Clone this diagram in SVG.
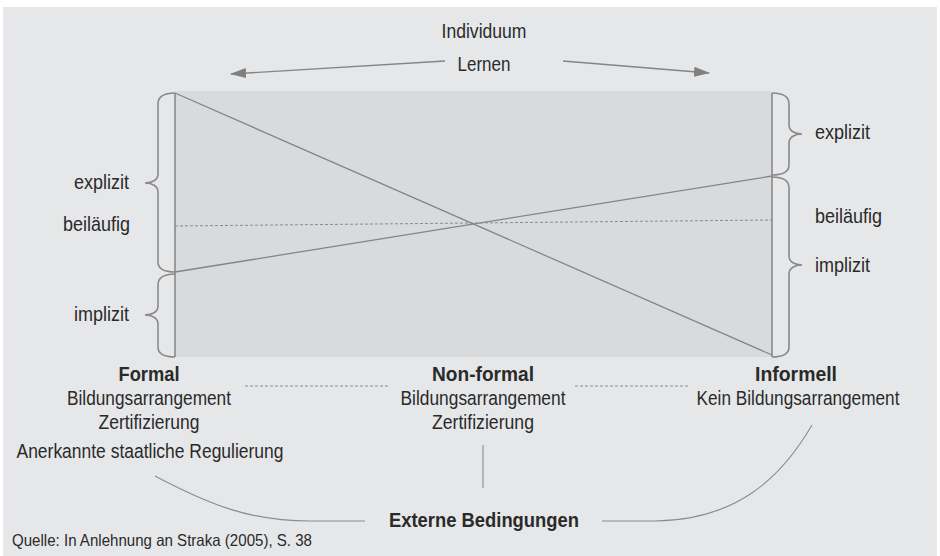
<svg xmlns="http://www.w3.org/2000/svg" width="940" height="556" viewBox="0 0 940 556">
  <defs>
    <marker id="arrow" viewBox="0 0 16 10" refX="15" refY="5" markerWidth="16" markerHeight="10" markerUnits="userSpaceOnUse" orient="auto">
      <path d="M0,0 L16,5 L0,10 Z" fill="#808080"/>
    </marker>
  </defs>
  <style>
    text { font-family: "Liberation Sans", Arial, sans-serif; font-size: 20.5px; fill: #2a2a2a; }
    .b { font-weight: bold; }
    .mid { text-anchor: middle; }
    .end { text-anchor: end; }
    .src { font-size: 16.5px; }
    .ln { fill: none; stroke: #858585; stroke-width: 1.3; }
    .brace { fill: none; stroke: #8a8a8a; stroke-width: 1.6; }
    .thin { fill: none; stroke: #8c8c8c; stroke-width: 1.1; }
    .dash { fill: none; stroke: #8c8c8c; stroke-width: 1; stroke-dasharray: 3 2; }
  </style>

  <!-- background panel -->
  <rect x="3" y="7" width="934" height="549" fill="#e6e7e9"/>

  <!-- learning field -->
  <g id="field">
    <rect x="175" y="91" width="597" height="266" fill="#d9dadc"/>
    <line class="brace" x1="175" y1="93" x2="175" y2="357"/>
    <line class="brace" x1="772" y1="93" x2="772" y2="357"/>
  </g>

  <!-- connectors -->
  <g id="connectors">
    <line class="ln" x1="445" y1="61" x2="231" y2="74" marker-end="url(#arrow)"/>
    <line class="ln" x1="563" y1="61" x2="709" y2="73" marker-end="url(#arrow)"/>
    <line class="ln" x1="175" y1="93" x2="772" y2="355"/>
    <line class="ln" x1="175" y1="272" x2="772" y2="176"/>
    <line class="dash" x1="175" y1="226" x2="772" y2="220"/>
    <line class="dash" x1="245" y1="386" x2="390" y2="386" stroke-dasharray="2 1.5"/>
    <line class="dash" x1="575" y1="386" x2="690" y2="386" stroke-dasharray="2 1.5"/>
    <line class="thin" x1="483" y1="445" x2="483" y2="488"/>
    <path class="thin" d="M155,476 C210,505 250,521 310,521 L365,521"/>
    <path class="thin" d="M812,425 C780,480 735,520 655,521 L602,521"/>
  </g>

  <!-- braces -->
  <g id="braces">
    <path class="brace" d="M175,93 C164,93 158,96 158,104 L158,174 C158,180 152,183 145,183 C152,183 158,186 158,192 L158,262 C158,269 164,272 175,272"/>
    <path class="brace" d="M175,274 C164,274 158,277 158,285 L158,306 C158,312 152,315 145,315 C152,315 158,318 158,324 L158,347 C158,354 164,357 175,357"/>
    <path class="brace" d="M772,93 C783,93 789,96 789,104 L789,125 C789,131 795,134 802,134 C795,134 789,137 789,143 L789,165 C789,172 783,175 772,175"/>
    <path class="brace" d="M772,177 C783,177 789,180 789,188 L789,256 C789,262 795,265 802,265 C795,265 789,268 789,274 L789,347 C789,354 783,357 772,357"/>
  </g>

  <g id="individuum">
    <text class="mid" x="484" y="38" textLength="85" lengthAdjust="spacingAndGlyphs">Individuum</text>
    <text class="mid" x="484" y="71" textLength="53" lengthAdjust="spacingAndGlyphs">Lernen</text>
  </g>

  <g id="left-labels">
    <text class="end" x="129" y="189" textLength="55" lengthAdjust="spacingAndGlyphs">explizit</text>
    <text class="end" x="130" y="231" textLength="67" lengthAdjust="spacingAndGlyphs">beiläufig</text>
    <text class="end" x="129" y="321" textLength="55" lengthAdjust="spacingAndGlyphs">implizit</text>
  </g>

  <g id="right-labels">
    <text x="815" y="139" textLength="55" lengthAdjust="spacingAndGlyphs">explizit</text>
    <text x="815" y="223" textLength="67" lengthAdjust="spacingAndGlyphs">beiläufig</text>
    <text x="815" y="272" textLength="55" lengthAdjust="spacingAndGlyphs">implizit</text>
  </g>

  <g id="formal">
    <text class="mid b" x="149" y="381" textLength="61" lengthAdjust="spacingAndGlyphs">Formal</text>
    <text class="mid" x="149" y="405" textLength="164" lengthAdjust="spacingAndGlyphs">Bildungsarrangement</text>
    <text class="mid" x="149" y="429" textLength="101" lengthAdjust="spacingAndGlyphs">Zertifizierung</text>
    <text class="mid" x="150" y="458" textLength="267" lengthAdjust="spacingAndGlyphs">Anerkannte staatliche Regulierung</text>
  </g>

  <g id="nonformal">
    <text class="mid b" x="483" y="381" textLength="102" lengthAdjust="spacingAndGlyphs">Non-formal</text>
    <text class="mid" x="483" y="405" textLength="165" lengthAdjust="spacingAndGlyphs">Bildungsarrangement</text>
    <text class="mid" x="483" y="429" textLength="102" lengthAdjust="spacingAndGlyphs">Zertifizierung</text>
  </g>

  <g id="informell">
    <text class="mid b" x="796" y="381" textLength="82" lengthAdjust="spacingAndGlyphs">Informell</text>
    <text class="mid" x="798" y="405" textLength="203" lengthAdjust="spacingAndGlyphs">Kein Bildungsarrangement</text>
  </g>

  <g id="externe">
    <text class="mid b" x="484" y="527" textLength="190" lengthAdjust="spacingAndGlyphs">Externe Bedingungen</text>
  </g>

  <text class="src" x="12" y="546" textLength="300" lengthAdjust="spacingAndGlyphs">Quelle: In Anlehnung an Straka (2005), S. 38</text>
</svg>
